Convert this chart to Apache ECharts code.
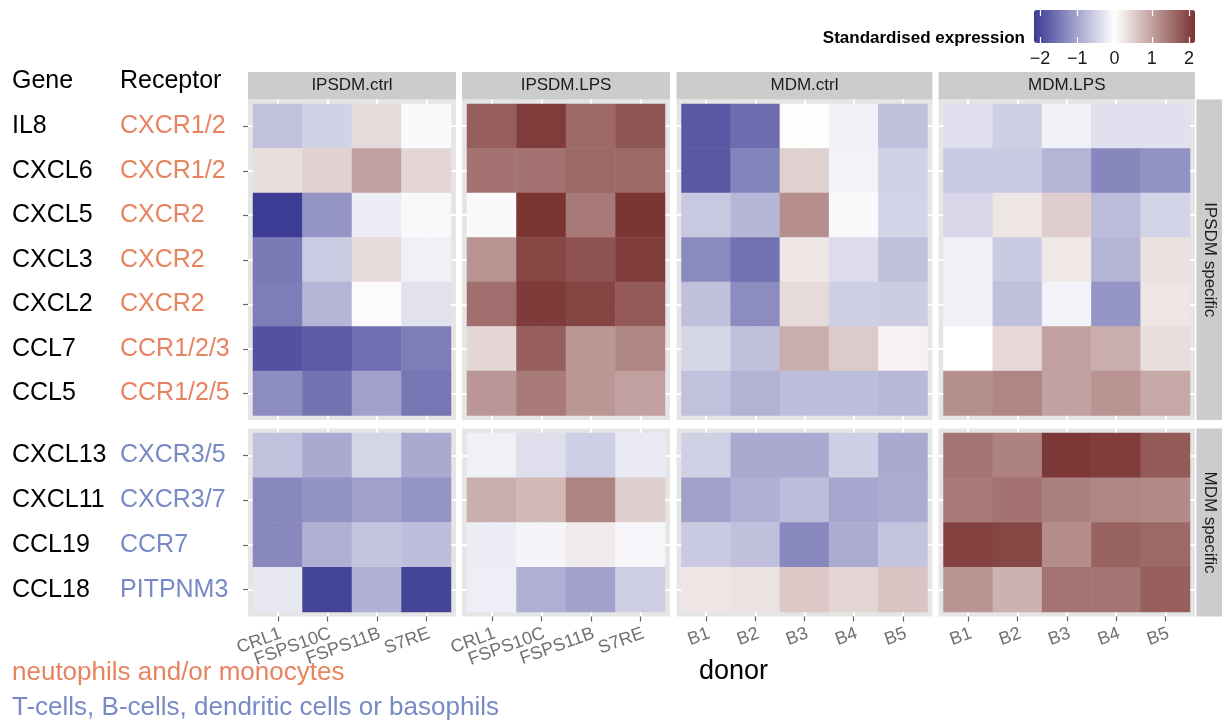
<!DOCTYPE html>
<html><head><meta charset="utf-8">
<script src="https://cdn.jsdelivr.net/npm/echarts@6/dist/echarts.min.js"></script>
<style>html,body{margin:0;padding:0;background:#fff}#c{width:1224px;height:721px}</style>
</head><body><div id="c"></div>
<script>
// ---------------- data ----------------
const conditions = ['IPSDM.ctrl', 'IPSDM.LPS', 'MDM.ctrl', 'MDM.LPS'];
const ipsdmDonors = ['CRL1', 'FSPS10C', 'FSPS11B', 'S7RE'];
const mdmDonors = ['B1', 'B2', 'B3', 'B4', 'B5'];
const groupNames = ['IPSDM specific', 'MDM specific'];
const topGenes = ['IL8', 'CXCL6', 'CXCL5', 'CXCL3', 'CXCL2', 'CCL7', 'CCL5'];
const topReceptors = ['CXCR1/2', 'CXCR1/2', 'CXCR2', 'CXCR2', 'CXCR2', 'CCR1/2/3', 'CCR1/2/5'];
const bottomGenes = ['CXCL13', 'CXCL11', 'CCL19', 'CCL18'];
const bottomReceptors = ['CXCR3/5', 'CXCR3/7', 'CCR7', 'PITPNM3'];
const footnotes = ['neutophils and/or monocytes', 'T-cells, B-cells, dendritic cells or basophils'];
const legendTicks = [-2, -1, 0, 1, 2];
const scaleLimit = 2.16;

// rows: IL8, CXCL6, CXCL5, CXCL3, CXCL2, CCL7, CCL5, CXCL13, CXCL11, CCL19, CCL18
const ipsdmCtrl = [
  [-0.68, -0.49, 0.39, -0.05],
  [0.35, 0.48, 1.01, 0.44],
  [-2.14, -1.17, -0.20, -0.08],
  [-1.46, -0.57, 0.39, -0.16],
  [-1.43, -0.82, 0.05, -0.32],
  [-1.90, -1.81, -1.59, -1.42],
  [-1.26, -1.54, -1.04, -1.50],
  [-0.68, -0.93, -0.46, -0.93],
  [-1.30, -1.20, -1.04, -1.17],
  [-1.30, -0.88, -0.64, -0.71],
  [-0.25, -2.05, -0.85, -2.05]
];
const ipsdmLps = [
  [1.71, 2.07, 1.60, 1.80],
  [1.50, 1.50, 1.60, 1.60],
  [-0.06, 2.14, 1.43, 2.14],
  [1.14, 1.97, 1.84, 2.07],
  [1.54, 2.09, 1.99, 1.76],
  [0.44, 1.71, 1.12, 1.29],
  [1.10, 1.42, 1.12, 1.01],
  [-0.16, -0.36, -0.55, -0.23],
  [0.86, 0.75, 1.31, 0.52],
  [-0.21, -0.12, 0.22, -0.10],
  [-0.19, -0.88, -1.02, -0.55]
];
const mdmCtrl = [
  [-1.83, -1.61, 0.02, -0.16, -0.69],
  [-1.83, -1.35, 0.50, -0.14, -0.49],
  [-0.60, -0.80, 1.20, -0.06, -0.47],
  [-1.28, -1.55, 0.27, -0.38, -0.69],
  [-0.69, -1.26, 0.39, -0.54, -0.56],
  [-0.45, -0.69, 0.86, 0.56, 0.14],
  [-0.68, -0.84, -0.73, -0.73, -0.78],
  [-0.52, -0.93, -0.93, -0.54, -0.93],
  [-1.04, -0.87, -0.73, -0.98, -0.91],
  [-0.58, -0.69, -1.30, -0.91, -0.65],
  [0.27, 0.31, 0.59, 0.44, 0.63]
];
const mdmLps = [
  [-0.34, -0.54, -0.16, -0.34, -0.34],
  [-0.58, -0.58, -0.82, -1.32, -1.20],
  [-0.44, 0.27, 0.53, -0.75, -0.47],
  [-0.16, -0.58, 0.25, -0.82, 0.33],
  [-0.16, -0.69, -0.14, -1.15, 0.27],
  [0.00, 0.41, 1.01, 0.86, 0.35],
  [1.18, 1.29, 0.99, 1.14, 0.93],
  [1.48, 1.33, 2.12, 2.06, 1.76],
  [1.42, 1.50, 1.35, 1.29, 1.25],
  [2.01, 1.97, 1.22, 1.67, 1.60],
  [1.14, 0.82, 1.48, 1.48, 1.69]
];

// ---------------- layout / style ----------------
const FONT = '"Liberation Sans", Arial, Helvetica, sans-serif';
const ORANGE = '#E8835F', BLUE = '#7789C6';
const scaleColors = ['#3A3A93', '#FFFFFF', '#7A3432'];
const panels = [
  { tileL: 253, tileW: 198, donors: ipsdmDonors, values: ipsdmCtrl },
  { tileL: 467, tileW: 198, donors: ipsdmDonors, values: ipsdmLps },
  { tileL: 681.5, tileW: 246, donors: mdmDonors, values: mdmCtrl },
  { tileL: 943.5, tileW: 246.5, donors: mdmDonors, values: mdmLps }
];
const blocks = [
  { tileT: 104, tileH: 311.5, genes: topGenes, receptors: topReceptors, rowStart: 0, cls: 'o' },
  { tileT: 433, tileH: 179, genes: bottomGenes, receptors: bottomReceptors, rowStart: 7, cls: 'b' }
];
const stripTop = 72;
const rightStripL = 1196.4, rightStripW = 25.6;

const grid = [], xAxis = [], yAxis = [], series = [];
function addGrid(g) {
  grid.push(Object.assign({ outerBoundsMode: 'none', containLabel: false, borderWidth: 0, show: false }, g));
  return grid.length - 1;
}
const hiddenParts = { axisLine: { show: false }, axisTick: { show: false }, axisLabel: { show: false } };
const bgSplit = { show: true, showMinLine: false, showMaxLine: false, lineStyle: { color: '#FFFFFF', width: 2 } };
const heatIdx = [];

panels.forEach((p, pi) => {
  const n = p.donors.length, mx = 0.1 * p.tileW / n;
  blocks.forEach((b, bi) => {
    const m = b.genes.length, my = 0.1 * b.tileH / m;
    // panel background with white grid lines
    const bg = addGrid({ show: true, backgroundColor: '#E5E5E5', left: p.tileL - mx, top: b.tileT - my, width: p.tileW + 2 * mx, height: b.tileH + 2 * my });
    xAxis.push(Object.assign({ gridIndex: bg, type: 'value', min: -0.6, max: n - 0.4, splitLine: bgSplit }, hiddenParts));
    yAxis.push(Object.assign({ gridIndex: bg, type: 'value', min: -0.6, max: m - 0.4, splitLine: bgSplit }, hiddenParts));

    // tiles
    const tg = addGrid({ left: p.tileL, top: b.tileT, width: p.tileW, height: b.tileH });
    let xa;
    if (bi === 0) {
      xa = Object.assign({
        gridIndex: tg, type: 'category', data: p.donors, position: 'top',
        splitLine: { show: false },
        name: conditions[pi], nameLocation: 'middle',
        nameGap: b.tileT - (stripTop + (b.tileT - my)) / 2,
        nameTextStyle: { color: '#1A1A1A', fontSize: 17, fontFamily: FONT, verticalAlign: 'middle', align: 'center' }
      }, hiddenParts);
    } else {
      xa = {
        gridIndex: tg, type: 'category', data: p.donors, position: 'bottom', offset: my,
        axisLine: { show: false }, splitLine: { show: false },
        axisTick: { show: true, alignWithLabel: true, length: 5, lineStyle: { color: '#666', width: 1.2 } },
        axisLabel: { show: true, interval: 0, rotate: 20, margin: 8, align: 'right', verticalAlign: 'top',
          color: '#707070', fontSize: 18, fontFamily: FONT, hideOverlap: false }
      };
    }
    xAxis.push(xa);
    const xi = xAxis.length - 1;

    let ya;
    if (pi === 0) {
      const rec = b.receptors, cls = b.cls;
      ya = {
        gridIndex: tg, type: 'category', data: b.genes, inverse: true, position: 'left', offset: mx,
        axisLine: { show: false }, splitLine: { show: false },
        axisTick: { show: true, alignWithLabel: true, length: 5, lineStyle: { color: '#666', width: 1.2 } },
        axisLabel: {
          show: true, interval: 0, align: 'left', margin: p.tileL - mx - 12,
          fontSize: 25, fontFamily: FONT, color: '#000',
          formatter: (v, idx) => '{g|' + v + '}{' + cls + '|' + rec[idx] + '}',
          rich: {
            g: { width: 108, fontSize: 25, fontFamily: FONT, color: '#000' },
            o: { fontSize: 25, fontFamily: FONT, color: ORANGE },
            b: { fontSize: 25, fontFamily: FONT, color: BLUE }
          }
        }
      };
    } else if (pi === 3) {
      ya = Object.assign({
        gridIndex: tg, type: 'category', data: b.genes, inverse: true, position: 'right',
        splitLine: { show: false },
        name: groupNames[bi], nameLocation: 'middle', nameRotate: -90,
        nameGap: rightStripL + rightStripW / 2 - (p.tileL + p.tileW),
        nameTextStyle: { color: '#1A1A1A', fontSize: 17, fontFamily: FONT, verticalAlign: 'middle', align: 'center' }
      }, hiddenParts);
    } else {
      ya = Object.assign({ gridIndex: tg, type: 'category', data: b.genes, inverse: true, splitLine: { show: false } }, hiddenParts);
    }
    yAxis.push(ya);
    const yi = yAxis.length - 1;

    const rows = p.values.slice(b.rowStart, b.rowStart + m);
    const data = [];
    rows.forEach((row, r) => row.forEach((v, c) => data.push([c, r, v])));
    series.push({
      type: 'heatmap', xAxisIndex: xi, yAxisIndex: yi, data: data,
      itemStyle: { borderWidth: 0 }, emphasis: { disabled: true }, label: { show: false }
    });
    heatIdx.push(series.length - 1);

    // strips
    if (bi === 0) {
      addGrid({ show: true, backgroundColor: '#CCCCCC', left: p.tileL - mx, width: p.tileW + 2 * mx, top: stripTop, height: b.tileT - my - stripTop });
    }
    if (pi === 3) {
      addGrid({ show: true, backgroundColor: '#CCCCCC', left: rightStripL, width: rightStripW, top: b.tileT - my, height: b.tileH + 2 * my });
    }
  });
});

// legend scale labels (axis under the colour bar)
const lg = addGrid({ left: 1034 + (scaleLimit - 2) / (2 * scaleLimit) * 161, width: 161 * 4 / (2 * scaleLimit), top: 10, height: 33 });
xAxis.push({
  gridIndex: lg, type: 'value', min: legendTicks[0], max: legendTicks[legendTicks.length - 1], interval: 1, position: 'bottom', z: 10,
  axisLine: { show: false }, splitLine: { show: false },
  axisTick: { show: true, inside: true, length: 6, lineStyle: { color: '#FFFFFF', width: 1.2 } },
  axisLabel: { show: true, margin: 7, color: '#1A1A1A', fontSize: 18, fontFamily: FONT, formatter: v => String(v).replace('-', '\u2212') }
});
xAxis.push({
  gridIndex: lg, type: 'value', min: legendTicks[0], max: legendTicks[legendTicks.length - 1], interval: 1, position: 'top', z: 10,
  axisLine: { show: false }, splitLine: { show: false }, axisLabel: { show: false },
  axisTick: { show: true, inside: true, length: 6, lineStyle: { color: '#FFFFFF', width: 1.2 } }
});
yAxis.push(Object.assign({ gridIndex: lg, type: 'value', min: 0, max: 1, splitLine: { show: false } }, hiddenParts, { show: false }));

const titleStyle = (size, color, weight) => ({ fontSize: size, color: color, fontFamily: FONT, fontWeight: weight || 'normal' });
const title = [
  { text: 'Gene', left: 12, top: 69, padding: 0, textStyle: titleStyle(25, '#000') },
  { text: 'Receptor', left: 120, top: 69, padding: 0, textStyle: titleStyle(25, '#000') },
  { text: footnotes[0], left: 12, top: 660, padding: 0, textStyle: titleStyle(26, ORANGE) },
  { text: footnotes[1], left: 12, top: 695, padding: 0, textStyle: titleStyle(26, BLUE) },
  { text: 'donor', left: 699, top: 658, padding: 0, textStyle: titleStyle(27, '#000') },
  { text: 'Standardised expression', right: 199, top: 30, padding: 0, textStyle: titleStyle(17, '#000', 'bold') }
];

const option = {
  animation: false,
  backgroundColor: '#FFFFFF',
  title: title,
  grid: grid, xAxis: xAxis, yAxis: yAxis, series: series,
  visualMap: {
    type: 'continuous', min: -scaleLimit, max: scaleLimit, orient: 'horizontal',
    left: 1034, top: 10, itemWidth: 33, itemHeight: 161, padding: 0,
    calculable: false, hoverLink: false, showLabel: false, text: null,
    seriesIndex: heatIdx, inRange: { color: scaleColors }, z: 4
  }
};
const chart = echarts.init(document.getElementById('c'), null, { renderer: 'canvas' });
chart.setOption(option);
</script>
</body></html>
